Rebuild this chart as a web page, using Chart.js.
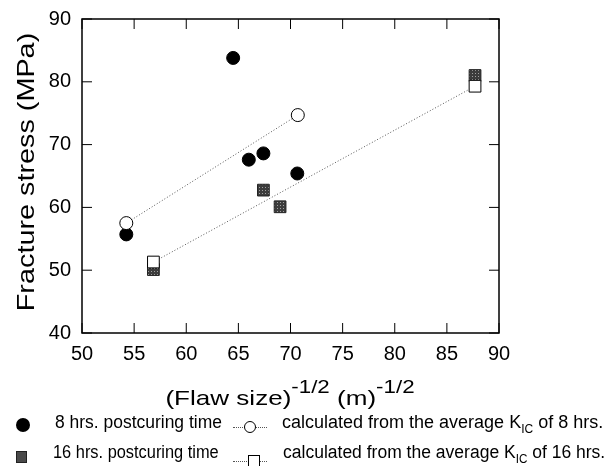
<!DOCTYPE html>
<html>
<head>
<meta charset="utf-8">
<script src="https://cdn.jsdelivr.net/npm/chart.js@4.4.0/dist/chart.umd.min.js"></script>
<style>
  html, body { margin: 0; padding: 0; background: #fff; }
  #wrap { position: relative; width: 616px; height: 466px; overflow: hidden;
          font-family: 'Liberation Sans', Arial, Helvetica, sans-serif; color: #000; }
  #chart { position: absolute; left: 0; top: 0; }
  .abs { position: absolute; white-space: nowrap; }
  #ytitle { left: 26px; top: 172px; font-size: 24px; line-height: 24px;
            transform: translate(-50%, -50%) rotate(-90deg) scaleX(1.2); }
  #xtitle { left: 290px; top: 387px; font-size: 21px; line-height: 21px;
            transform: translateX(-50%) scaleX(1.24); }
  #xtitle sup { font-size: 18px; vertical-align: 12px; line-height: 0; }
  .leg { font-size: 18px; line-height: 18px; transform-origin: 0 50%; }
  .leg sub { font-size: 12px; vertical-align: -5px; line-height: 0; }
  .dot { border-top: 1px dotted #555; height: 0; }
</style>
</head>
<body>
<div id="wrap">
  <canvas id="chart" width="616" height="466"></canvas>
  <div class="abs" id="ytitle">Fracture stress (MPa)</div>
  <div class="abs" id="xtitle">(Flaw size)<sup>-1/2</sup> (m)<sup>-1/2</sup></div>

  <div class="abs" style="left:16px;top:418px;width:14px;height:14px;border-radius:50%;background:#000;"></div>
  <div class="abs leg" style="left:55px;top:413px;transform:scaleX(0.97);">8 hrs. postcuring time</div>
  <div class="abs dot" style="left:233px;top:427px;width:34px;"></div>
  <div class="abs" style="left:244px;top:421px;width:10px;height:10px;border-radius:50%;background:#fff;border:1px solid #000;"></div>
  <div class="abs leg" style="left:282px;top:413px;">calculated from the average K<sub>IC</sub> of 8 hrs.</div>

  <div class="abs" style="left:16px;top:451px;width:9px;height:10px;background:#4a4a4a;border:1px solid #222;"></div>
  <div class="abs leg" style="left:53px;top:443px;transform:scaleX(0.91);">16 hrs. postcuring time</div>
  <div class="abs dot" style="left:233px;top:461px;width:34px;"></div>
  <div class="abs" style="left:248px;top:455px;width:10px;height:10px;background:#fff;border:1px solid #000;"></div>
  <div class="abs leg" style="left:283px;top:443px;transform:scaleX(0.973);">calculated from the average K<sub>IC</sub> of 16 hrs.</div>
</div>
<script>
// measured points, 8 hrs postcuring
var x8 = [54.25, 64.5, 66.0, 67.4, 70.65];
var y8 = [55.7, 83.8, 67.6, 68.6, 65.4];
// calculated from average K_IC, 8 hrs
var x8calc = [54.25, 70.7];
var y8calc = [57.5, 74.7];
// measured points, 16 hrs postcuring
var x16 = [56.85, 67.4, 69.0, 87.7];
var y16 = [50.1, 62.75, 60.1, 81.0];
// calculated from average K_IC, 16 hrs
var x16calc = [56.85, 87.7];
var y16calc = [51.3, 79.3];

var xTicks = [50, 55, 60, 65, 70, 75, 80, 85, 90];
var yTicks = [40, 50, 60, 70, 80, 90];

function pts(xs, ys) {
  return xs.map(function (v, i) { return { x: v, y: ys[i] }; });
}

// halftone-ish fill for the 16 hrs squares
var pc = document.createElement('canvas');
pc.width = 3; pc.height = 3;
var pctx = pc.getContext('2d');
pctx.fillStyle = '#3c3c3c'; pctx.fillRect(0, 0, 3, 3);
pctx.fillStyle = '#a0a0a0'; pctx.fillRect(1, 1, 1, 1);
var squareFill = pctx.createPattern(pc, 'repeat');

// frame + inward ticks on all four sides
var frameTicks = {
  id: 'frameTicks',
  beforeDatasetsDraw: function (chart) {
    var ctx = chart.ctx, a = chart.chartArea, sx = chart.scales.x, sy = chart.scales.y;
    ctx.save();
    ctx.strokeStyle = '#000';
    ctx.lineWidth = 1;
    ctx.beginPath();
    sx.ticks.forEach(function (t) {
      var px = sx.getPixelForValue(t.value);
      ctx.moveTo(px, a.bottom); ctx.lineTo(px, a.bottom - 10);
      ctx.moveTo(px, a.top); ctx.lineTo(px, a.top + 10);
    });
    sy.ticks.forEach(function (t) {
      var py = sy.getPixelForValue(t.value);
      ctx.moveTo(a.left, py); ctx.lineTo(a.left + 10, py);
      ctx.moveTo(a.right, py); ctx.lineTo(a.right - 10, py);
    });
    ctx.stroke();
    ctx.lineWidth = 1.5;
    ctx.strokeRect(a.left, a.top, a.right - a.left, a.bottom - a.top);
    ctx.restore();
  }
};

var tickFont = { family: "'Liberation Sans', Arial, sans-serif", size: 20 };

new Chart(document.getElementById('chart'), {
  type: 'scatter',
  data: {
    datasets: [
      {
        label: '8 hrs. postcuring time',
        data: pts(x8, y8),
        pointStyle: 'circle', pointRadius: 6.5,
        backgroundColor: '#000', borderColor: '#000', borderWidth: 1,
        order: 2
      },
      {
        label: 'calculated from the average K_IC of 8 hrs.',
        data: pts(x8calc, y8calc),
        showLine: true,
        borderColor: '#555', borderWidth: 1, borderDash: [1, 2],
        pointStyle: 'circle', pointRadius: 6.5,
        pointBackgroundColor: '#fff', pointBorderColor: '#000', pointBorderWidth: 1,
        order: 0
      },
      {
        label: '16 hrs. postcuring time',
        data: pts(x16, y16),
        pointStyle: 'rect', pointRadius: 8.3,
        backgroundColor: squareFill, borderColor: '#222', borderWidth: 1,
        order: 3
      },
      {
        label: 'calculated from the average K_IC of 16 hrs.',
        data: pts(x16calc, y16calc),
        showLine: true,
        borderColor: '#555', borderWidth: 1, borderDash: [1, 2],
        pointStyle: 'rect', pointRadius: 8.3,
        pointBackgroundColor: '#fff', pointBorderColor: '#000', pointBorderWidth: 1,
        order: 1
      }
    ]
  },
  options: {
    responsive: false,
    animation: false,
    layout: { padding: { top: 19, right: 117, left: 0, bottom: 0 } },
    plugins: { legend: { display: false }, tooltip: { enabled: false } },
    scales: {
      x: {
        type: 'linear', min: 50, max: 90,
        afterBuildTicks: function (s) { s.ticks = xTicks.map(function (v) { return { value: v }; }); },
        afterFit: function (s) { s.height = 133; },
        grid: { display: false, drawTicks: false },
        border: { display: false },
        ticks: { padding: 9, color: '#000', font: tickFont }
      },
      y: {
        type: 'linear', min: 40, max: 90,
        afterBuildTicks: function (s) { s.ticks = yTicks.map(function (v) { return { value: v }; }); },
        afterFit: function (s) { s.width = 82; s.paddingTop = 0; s.paddingBottom = 0; },
        grid: { display: false, drawTicks: false },
        border: { display: false },
        ticks: { padding: 11, color: '#000', font: tickFont }
      }
    }
  },
  plugins: [frameTicks]
});
</script>
</body>
</html>
